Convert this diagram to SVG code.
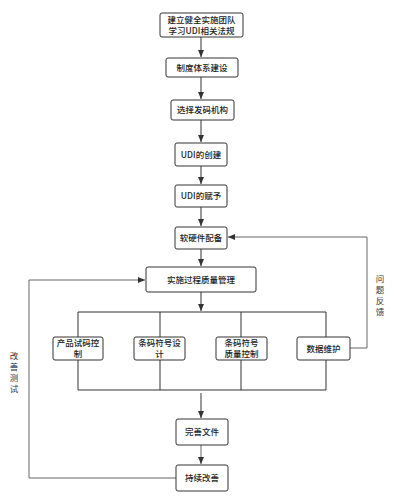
<svg xmlns="http://www.w3.org/2000/svg" width="400" height="499" viewBox="0 0 400 499">
<style>
.box{fill:#fff;stroke:#333;stroke-width:1;}
.t{font-family:"Noto Sans CJK SC","Liberation Sans",sans-serif;font-size:8.5px;fill:#222;text-anchor:middle;font-weight:500;}
.lbl{font-family:"Noto Sans CJK SC","Liberation Sans",sans-serif;font-size:8.5px;fill:#333;text-anchor:middle;}
.c{fill:none;stroke:#333;stroke-width:1;}
.g{fill:none;stroke:#666;stroke-width:1;}
</style>
<defs>
<marker id="ah" markerWidth="8" markerHeight="8" refX="7" refY="4" orient="auto" markerUnits="userSpaceOnUse">
<path d="M0,1 L7,4 L0,7 Z" fill="#333"/>
</marker>
</defs>
<rect width="400" height="499" fill="#fff"/>
<g id="connectors">
<line class="c" x1="201" y1="37" x2="201" y2="57" marker-end="url(#ah)"/>
<line class="c" x1="201" y1="77" x2="201" y2="99" marker-end="url(#ah)"/>
<line class="c" x1="201" y1="120" x2="201" y2="142" marker-end="url(#ah)"/>
<line class="c" x1="201" y1="166" x2="201" y2="184" marker-end="url(#ah)"/>
<line class="c" x1="201" y1="207" x2="201" y2="226" marker-end="url(#ah)"/>
<line class="c" x1="201" y1="249" x2="201" y2="266" marker-end="url(#ah)"/>
<line class="c" x1="201" y1="292" x2="201" y2="311" marker-end="url(#ah)"/>
<polyline class="c" points="78,390 78,312 326,312 326,390 78,390"/>
<line class="c" x1="160" y1="312" x2="160" y2="390"/>
<line class="c" x1="241" y1="312" x2="241" y2="390"/>
<line class="c" x1="201" y1="393" x2="201" y2="418" marker-end="url(#ah)"/>
<line class="g" x1="201" y1="445" x2="201" y2="464" marker-end="url(#ah)"/>
<polyline class="g" points="176,478 29,478 29,280 145,280" marker-end="url(#ah)"/>
<polyline class="g" points="350,348 367,348 367,237 228,237" marker-end="url(#ah)"/>
</g>
<g id="n1"><rect class="box" x="160" y="13" width="83" height="24" rx="2"/><text class="t" x="201.5" y="23">建立健全实施团队</text><text class="t" x="201.5" y="34">学习UDI相关法规</text></g>
<g id="n2"><rect class="box" x="166" y="58" width="72" height="19" rx="2"/><text class="t" x="202" y="70.5">制度体系建设</text></g>
<g id="n3"><rect class="box" x="171" y="100" width="63" height="20" rx="2"/><text class="t" x="202.5" y="113">选择发码机构</text></g>
<g id="n4"><rect class="box" x="175" y="143" width="52" height="23" rx="2"/><text class="t" x="201" y="157.5">UDI的创建</text></g>
<g id="n5"><rect class="box" x="175" y="185" width="52" height="22" rx="2"/><text class="t" x="201" y="199">UDI的赋予</text></g>
<g id="n6"><rect class="box" x="175" y="227" width="52" height="22" rx="2"/><text class="t" x="201" y="241">软硬件配备</text></g>
<g id="n7"><rect class="box" x="146" y="267" width="110" height="25" rx="2"/><text class="t" x="201" y="282.5">实施过程质量管理</text></g>
<g id="n8"><rect class="box" x="53" y="337" width="50" height="23" rx="2"/><text class="t" x="78" y="346">产品试码控</text><text class="t" x="78" y="357">制</text></g>
<g id="n9"><rect class="box" x="134" y="337" width="51" height="23" rx="2"/><text class="t" x="159.5" y="346">条码符号设</text><text class="t" x="159.5" y="357">计</text></g>
<g id="n10"><rect class="box" x="216" y="337" width="51" height="23" rx="2"/><text class="t" x="241.5" y="346">条码符号</text><text class="t" x="241.5" y="357">质量控制</text></g>
<g id="n11"><rect class="box" x="297" y="337" width="53" height="23" rx="2"/><text class="t" x="323.5" y="351.5">数据维护</text></g>
<g id="n12"><rect class="box" x="176" y="419" width="52" height="26" rx="2"/><text class="t" x="202" y="435">完善文件</text></g>
<g id="n13"><rect class="box" x="176" y="465" width="52" height="26" rx="2"/><text class="t" x="202" y="481">持续改善</text></g>
<g id="labels">
<text class="lbl" x="14" y="359">改</text><text class="lbl" x="14" y="370">善</text><text class="lbl" x="14" y="381">测</text><text class="lbl" x="14" y="392">试</text>
<text class="lbl" x="380" y="282">问</text><text class="lbl" x="380" y="293">题</text><text class="lbl" x="380" y="304">反</text><text class="lbl" x="380" y="315">馈</text>
</g>
</svg>
